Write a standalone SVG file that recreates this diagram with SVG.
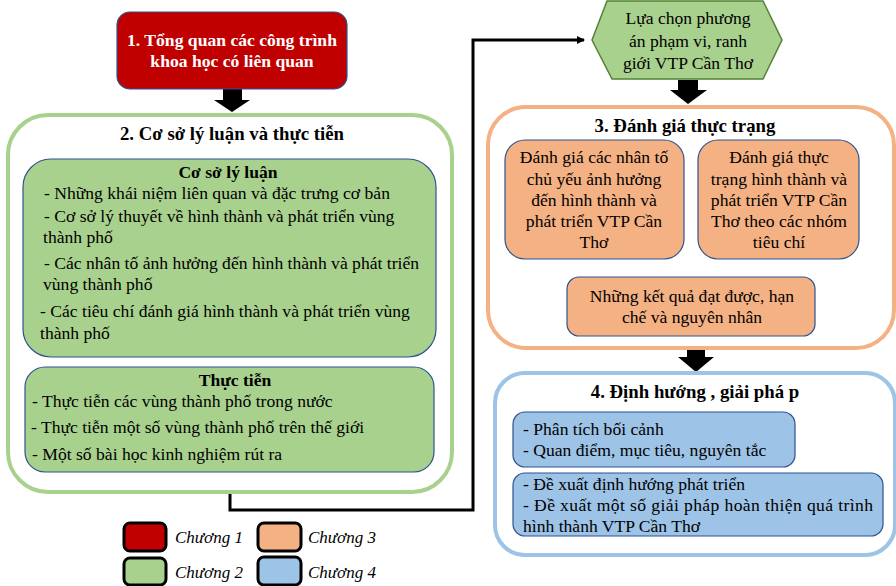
<svg xmlns="http://www.w3.org/2000/svg" width="896" height="586" viewBox="0 0 896 586" font-family="'Liberation Serif', 'DejaVu Serif', serif">
<defs>
<style>
text{font-family:'Liberation Serif','DejaVu Serif',serif;font-size:17.6px;fill:#000}
.b{font-weight:bold}
.c{text-anchor:middle}
.w{fill:#fff}
.i{font-style:italic;font-size:17px}
.t{font-size:18.8px}
.inner{stroke:#2F528F;stroke-width:1.2}
.g{fill:#A9D18E}
.o{fill:#F4B183}
.bl{fill:#9DC3E6}
.r{fill:#C00000}
.blk{fill:#000}
.leg{stroke:#000;stroke-width:3}
</style>
<marker id="ah" markerWidth="8" markerHeight="8" refX="7" refY="4" orient="auto" markerUnits="userSpaceOnUse"><path d="M0,0 L8,4 L0,8 z" fill="#000"/></marker>
<marker id="ah2" markerWidth="7" markerHeight="6" refX="6" refY="3" orient="auto" markerUnits="userSpaceOnUse"><path d="M0,0 L7,3 L0,6 z" fill="#000"/></marker>
</defs>
<rect width="896" height="586" fill="#fff"/>

<g id="connectors">
<path d="M230,493 V510 H473 V40 H584" fill="none" stroke="#000" stroke-width="3" marker-end="url(#ah)"/>
<path d="M223,89 H242 V100 H250 L232,112 L214,100 H223 Z" class="blk"/>
<path d="M678,80 H698 V90 H707 L688,104 L670,90 H678 Z" class="blk"/>
<path d="M687,348 H705 V357 H714 L696,372 L678,357 H687 Z" class="blk"/>
<line x1="595" y1="259" x2="691" y2="276" stroke="#000" stroke-width="1.5" marker-end="url(#ah2)"/>
<line x1="779" y1="259" x2="693" y2="276" stroke="#000" stroke-width="1.5" marker-end="url(#ah2)"/>
</g>

<g id="n1">
<rect x="117" y="12" width="230" height="77" rx="13" class="r" stroke="#2F528F" stroke-width="1.2"/>
<text x="232" y="46" class="b c w">1. Tổng quan các công trình</text>
<text x="232" y="67" class="b c w">khoa học có liên quan</text>
</g>

<g id="n2">
<rect x="8" y="115" width="444" height="377" rx="40" fill="#fff" stroke="#A9D18E" stroke-width="4"/>
<text x="232" y="140" class="b c t">2. Cơ sở lý luận và thực tiễn</text>
</g>

<g id="n2a">
<rect x="23" y="159" width="413" height="198" rx="28" class="g inner"/>
<text x="228" y="178" class="b c">Cơ sở lý luận</text>
<text x="44" y="199">- Những khái niệm liên quan và đặc trưng cơ bản</text>
<text x="44" y="222">- Cơ sở lý thuyết về hình thành và phát triển vùng</text>
<text x="43" y="243">thành phố</text>
<text x="44" y="269">- Các nhân tố ảnh hưởng đến hình thành và phát triển</text>
<text x="43" y="290">vùng thành phố</text>
<text x="40" y="317">- Các tiêu chí đánh giá hình thành và phát triển vùng</text>
<text x="40" y="339">thành phố</text>
</g>

<g id="n2b">
<rect x="25" y="367" width="409" height="105" rx="20" class="g inner"/>
<text x="235" y="386" class="b c">Thực tiễn</text>
<text x="32" y="407">- Thực tiễn các vùng thành phố trong nước</text>
<text x="31" y="433">- Thực tiễn một số vùng thành phố trên thế giới</text>
<text x="32" y="460">- Một số bài học kinh nghiệm rút ra</text>
</g>

<g id="nhex">
<polygon points="592,40 607,1 763,1 782,40 763,79 612,79" class="g" stroke="#538135" stroke-width="1.5"/>
<text x="688" y="24" class="c">Lựa chọn phương</text>
<text x="688" y="47" class="c">án phạm vi, ranh</text>
<text x="688" y="69" class="c">giới VTP Cần Thơ</text>
</g>

<g id="n3">
<rect x="488" y="107" width="406" height="241" rx="38" fill="#fff" stroke="#F4B183" stroke-width="4"/>
<text x="685" y="132" class="b c t">3. Đánh giá thực trạng</text>
</g>

<g id="n3a">
<rect x="505" y="140" width="179" height="119" rx="20" class="o inner"/>
<text x="594" y="163" class="c">Đánh giá các nhân tố</text>
<text x="594" y="185" class="c">chủ yếu ảnh hưởng</text>
<text x="594" y="206" class="c">đến hình thành và</text>
<text x="594" y="227" class="c">phát triển VTP Cần</text>
<text x="594" y="248" class="c">Thơ</text>
</g>

<g id="n3b">
<rect x="698" y="140" width="161" height="119" rx="20" class="o inner"/>
<text x="779" y="163" class="c">Đánh giá thực</text>
<text x="779" y="185" class="c">trạng hình thành và</text>
<text x="779" y="206" class="c">phát triển VTP Cần</text>
<text x="779" y="227" class="c">Thơ theo các nhóm</text>
<text x="779" y="248" class="c">tiêu chí</text>
</g>

<g id="n3c">
<rect x="567" y="277" width="248" height="59" rx="12" class="o inner"/>
<text x="692" y="302" class="c">Những kết quả đạt được, hạn</text>
<text x="692" y="323" class="c">chế và nguyên nhân</text>
</g>

<g id="n4">
<rect x="495" y="373" width="400" height="182" rx="30" fill="#fff" stroke="#9DC3E6" stroke-width="4"/>
<text x="695" y="398" class="b c t">4. Định hướng , giải phá p</text>
</g>

<g id="n4a">
<rect x="513" y="412" width="282" height="55" rx="12" class="bl inner"/>
<text x="523" y="435">- Phân tích bối cảnh</text>
<text x="523" y="456">- Quan điểm, mục tiêu, nguyên tắc</text>
</g>

<g id="n4b">
<rect x="513" y="473" width="370" height="63" rx="12" class="bl inner"/>
<text x="523" y="490">- Đề xuất định hướng phát triển</text>
<text x="523" y="511" textLength="350" lengthAdjust="spacing">- Đề xuất một số giải pháp hoàn thiện quá trình</text>
<text x="523" y="532">hình thành VTP Cần Thơ</text>
</g>

<g id="legend">
<rect x="124" y="523" width="42" height="28" rx="6" class="r leg"/>
<text x="175" y="543" class="i">Chương 1</text>
<rect x="124" y="558" width="42" height="27" rx="6" class="g leg"/>
<text x="175" y="578" class="i">Chương 2</text>
<rect x="258" y="523" width="43" height="28" rx="6" class="o leg"/>
<text x="308" y="543" class="i">Chương 3</text>
<rect x="258" y="557" width="43" height="28" rx="6" class="bl leg"/>
<text x="308" y="578" class="i">Chương 4</text>
</g>
</svg>
